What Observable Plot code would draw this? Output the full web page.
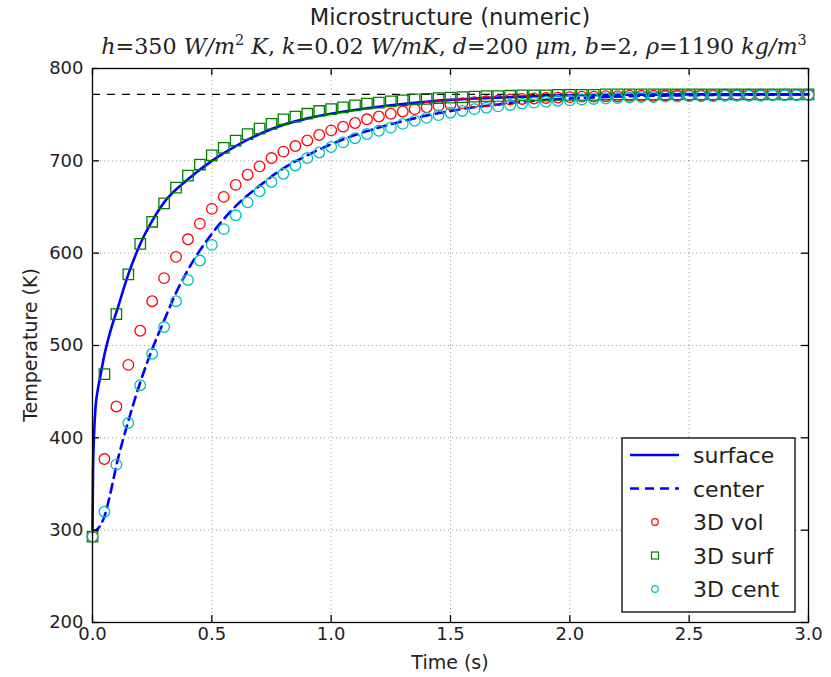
<!DOCTYPE html>
<html>
<head>
<meta charset="utf-8">
<script src="https://cdn.jsdelivr.net/npm/d3@7"></script>
<script src="https://cdn.jsdelivr.net/npm/@observablehq/plot@0.6"></script>
<style>
  body { margin: 0; background: #fff; }
  #chart { width: 831px; height: 677px; }
</style>
</head>
<body>
<div id="chart"></div>
<script>
// ---------- data ----------
const times = [0,0.05,0.1,0.15,0.2,0.25,0.3,0.35,0.4,0.45,0.5,0.55,0.6,0.65,0.7,0.75,0.8,0.85,0.9,0.95,1.0,
  1.05,1.1,1.15,1.2,1.25,1.3,1.35,1.4,1.45,1.5,1.55,1.6,1.65,1.7,1.75,1.8,1.85,1.9,1.95,2.0,
  2.05,2.1,2.15,2.2,2.25,2.3,2.35,2.4,2.45,2.5,2.55,2.6,2.65,2.7,2.75,2.8,2.85,2.9,2.95,3.0];

const vol3D = [293,377,434,479,516,548,573,596,615,632,648,661,674,685,694,703,710,716,722,728,733,
  737,741,745,748,751,753.5,756,758,759.5,761,762.5,763.5,764.5,765.5,766.5,767,767.5,768,768.5,769,
  769.5,769.5,770,770,770.5,770.5,770.5,771,771,771,771,771,771.5,771.5,771.5,771.5,771.5,771.5,771.5,771.5];

const surf3D = [293,469,534,577,610,634,654,671,684,696,706,714,722,729,735,740,745,748,751,754,756,
  758,760,762,763,764.5,765.5,766.5,767,768,768.5,769,769.5,770,770,770.5,771,771,771,771.5,771.5,
  771.5,771.5,772,772,772,772,772,772,772,772,772,772,772,772,772,772,772,772,772,772];

const cent3D = [293,320,371,416,457,491,520,548,571,592,609,626,641,655,667,677,686,695,703,709,715,
  720,724.5,729,732.5,736,740,743.5,746.5,749.5,752,754,756,757.5,759,760.5,762,763,764,765,765.5,
  766.5,767,767.5,768,768.5,769,769,769.5,769.5,770,770,770,770.5,770.5,770.5,770.5,771,771,771,771];

const surfaceT = [0,0.002,0.006,0.013,0.022,0.033,0.05,0.065,0.08,0.1,0.15,0.2,0.25,0.3,0.4,0.5,0.6,0.7,0.8,0.9,1.0,1.1,1.2,1.3,1.4,1.5,1.6,1.7,1.8,1.9,2.0,2.25,2.5,2.75,3.0];
const surfaceV = [300,360,400,434,452,467,490,506,520,536,577,610,635,655,680,700,716,729,739,746,751,755,758.5,761.5,764,766,767.5,768.5,769.5,770.5,771,771.5,772,772,772];

const centerT = [0,0.03,0.05,0.075,0.1,0.15,0.2,0.25,0.3,0.35,0.4,0.45,0.5,0.6,0.7,0.8,0.9,1.0,1.1,1.2,1.3,1.4,1.5,1.6,1.7,1.8,1.9,2.0,2.25,2.5,2.75,3.0];
const centerV = [298,304,315,340,370,418,460,496,527,557,582,603,621,651,673,692,706,718,728,736,743,749,754,758,761,764,766,767.5,770,771,771.5,772];

const equilibrium = [772];

const xTicks = [0,0.5,1.0,1.5,2.0,2.5,3.0];
const yTicks = [200,300,400,500,600,700,800];

const titleText = "Microstructure (numeric)";
const xLabel = "Time (s)";
const yLabel = "Temperature (K)";
const legendLabels = ["surface","center","3D vol","3D surf","3D cent"];

// ---------- tables ----------
const markerRows = (vals) => times.map((t, i) => ({t, v: vals[i]}));
const surfaceRows = surfaceT.map((t, i) => ({t, v: surfaceV[i]}));
const centerRows = centerT.map((t, i) => ({t, v: centerV[i]}));

const W = 831, H = 677, mL = 92, mR = 23, mT = 68, mB = 55;
const plotW = W - mL - mR, plotH = H - mT - mB;
const tick = 7;
const font = "DejaVu Sans";

const svg = Plot.plot({
  width: W, height: H,
  marginLeft: mL, marginRight: mR, marginTop: mT, marginBottom: mB,
  x: {domain: [0, 3]},
  y: {domain: [200, 800]},
  style: {fontFamily: font, fontSize: "18px", background: "#fff", color: "#000"},
  marks: [
    Plot.gridX(xTicks, {stroke: "#000", strokeOpacity: 0.45, strokeWidth: 0.8, strokeDasharray: "1.2,2.8"}),
    Plot.gridY(yTicks, {stroke: "#000", strokeOpacity: 0.45, strokeWidth: 0.8, strokeDasharray: "1.2,2.8"}),
    Plot.ruleY(equilibrium, {y: d => d, stroke: "#000", strokeWidth: 1.3, strokeDasharray: "8,7"}),
    Plot.line(surfaceRows, {x: "t", y: "v", stroke: "#0000ff", strokeWidth: 2.6, curve: "monotone-x"}),
    Plot.line(centerRows, {x: "t", y: "v", stroke: "#0000ff", strokeWidth: 2.6, strokeDasharray: "9,6", curve: "monotone-x"}),
    Plot.dot(markerRows(vol3D), {x: "t", y: "v", r: 5.3, stroke: "#ff0000", fill: "none", strokeWidth: 1.3}),
    Plot.dot(markerRows(surf3D), {x: "t", y: "v", r: 5.9, symbol: "square", stroke: "#008000", fill: "none", strokeWidth: 1.3}),
    Plot.dot(markerRows(cent3D), {x: "t", y: "v", r: 5.3, stroke: "#00bfbf", fill: "none", strokeWidth: 1.3}),
    Plot.frame({stroke: "#000", strokeWidth: 1.3}),
    Plot.ruleX(xTicks, {x: d => d, stroke: "#000", strokeWidth: 1.3, insetTop: plotH - tick}),
    Plot.ruleX(xTicks, {x: d => d, stroke: "#000", strokeWidth: 1.3, insetBottom: plotH - tick}),
    Plot.ruleY(yTicks, {y: d => d, stroke: "#000", strokeWidth: 1.3, insetRight: plotW - tick}),
    Plot.ruleY(yTicks, {y: d => d, stroke: "#000", strokeWidth: 1.3, insetLeft: plotW - tick}),
    Plot.axisX(xTicks, {tickSize: 0, tickPadding: 5, tickFormat: d => d.toFixed(1), label: null, fill: "#222", fontSize: 18}),
    Plot.axisY(yTicks, {tickSize: 0, tickPadding: 9, tickFormat: d => String(d), label: null, fill: "#222", fontSize: 18})
  ]
});
document.getElementById("chart").appendChild(svg);

const s = d3.select(svg);
const cx = mL + plotW / 2;

// title
s.append("text").attr("x", cx).attr("y", 25).attr("text-anchor", "middle")
  .attr("font-family", font).attr("font-size", 22.6).attr("fill", "#222").text(titleText);

// subtitle (math style)
const subFs = 20, supFs = 13, supDy = 8;
const sub = s.append("text").attr("x", cx + 4).attr("y", 54).attr("text-anchor", "middle")
  .attr("font-family", "DejaVu Serif").attr("font-size", subFs).attr("fill", "#222");
const parts = [
  ["h", "i"], ["=350 ", "n"], ["W/m", "i"], ["2", "sup"], [" K", "i"], [", ", "n"],
  ["k", "i"], ["=0.02 ", "n"], ["W/mK", "i"], [", ", "n"],
  ["d", "i"], ["=200 ", "n"], ["μm", "i"], [", ", "n"],
  ["b", "i"], ["=2, ", "n"],
  ["ρ", "i"], ["=1190 ", "n"], ["kg/m", "i"], ["3", "sup"]
];
let prevSup = false;
for (const [txt, kind] of parts) {
  const ts = sub.append("tspan").text(txt);
  if (kind === "i") ts.attr("font-style", "italic");
  if (kind === "sup") { ts.attr("font-size", supFs).attr("dy", -supDy).attr("data-sup", 1); prevSup = true; }
  else if (prevSup) { ts.attr("dy", supDy); prevSup = false; }
}
const subW = sub.node().getBBox().width;
const targetW = 706;
const k = subW > 0 ? targetW / subW : 1;
sub.attr("font-size", subFs * k);
sub.selectAll("tspan").each(function() {
  const t = d3.select(this);
  if (t.attr("data-sup")) t.attr("font-size", supFs * k);
  if (t.attr("dy")) t.attr("dy", +t.attr("dy") * k);
});

// axis labels
s.append("text").attr("x", cx).attr("y", 669).attr("text-anchor", "middle")
  .attr("font-family", font).attr("font-size", 19).attr("fill", "#222").text(xLabel);
s.append("text").attr("transform", `translate(37, ${mT + plotH / 2}) rotate(-90)`).attr("text-anchor", "middle")
  .attr("font-family", font).attr("font-size", 19).attr("fill", "#222").text(yLabel);

// legend
const lg = s.append("g");
lg.append("rect").attr("x", 622).attr("y", 438).attr("width", 173).attr("height", 174)
  .attr("fill", "#fff").attr("stroke", "#000").attr("stroke-width", 1.3);
const rowsY = [455, 488.5, 522, 555.5, 589];
const styles = [
  {type: "line", stroke: "#0000ff", dash: null},
  {type: "line", stroke: "#0000ff", dash: "9,6"},
  {type: "circle", stroke: "#ff0000"},
  {type: "square", stroke: "#008000"},
  {type: "circle", stroke: "#00bfbf"}
];
legendLabels.forEach((lab, i) => {
  const y = rowsY[i], st = styles[i];
  if (st.type === "line") {
    lg.append("line").attr("x1", 630).attr("x2", 679).attr("y1", y).attr("y2", y)
      .attr("stroke", st.stroke).attr("stroke-width", 2.6).attr("stroke-dasharray", st.dash);
  } else if (st.type === "circle") {
    lg.append("circle").attr("cx", 655).attr("cy", y).attr("r", 3.3)
      .attr("fill", "none").attr("stroke", st.stroke).attr("stroke-width", 1.2);
  } else {
    lg.append("rect").attr("x", 651.5).attr("y", y - 3.5).attr("width", 7).attr("height", 7)
      .attr("fill", "none").attr("stroke", st.stroke).attr("stroke-width", 1.2);
  }
  lg.append("text").attr("x", 693).attr("y", y + 8).attr("text-anchor", "start").attr("font-family", font)
    .attr("font-size", 22).attr("fill", "#222").text(lab);
});
</script>
</body>
</html>
